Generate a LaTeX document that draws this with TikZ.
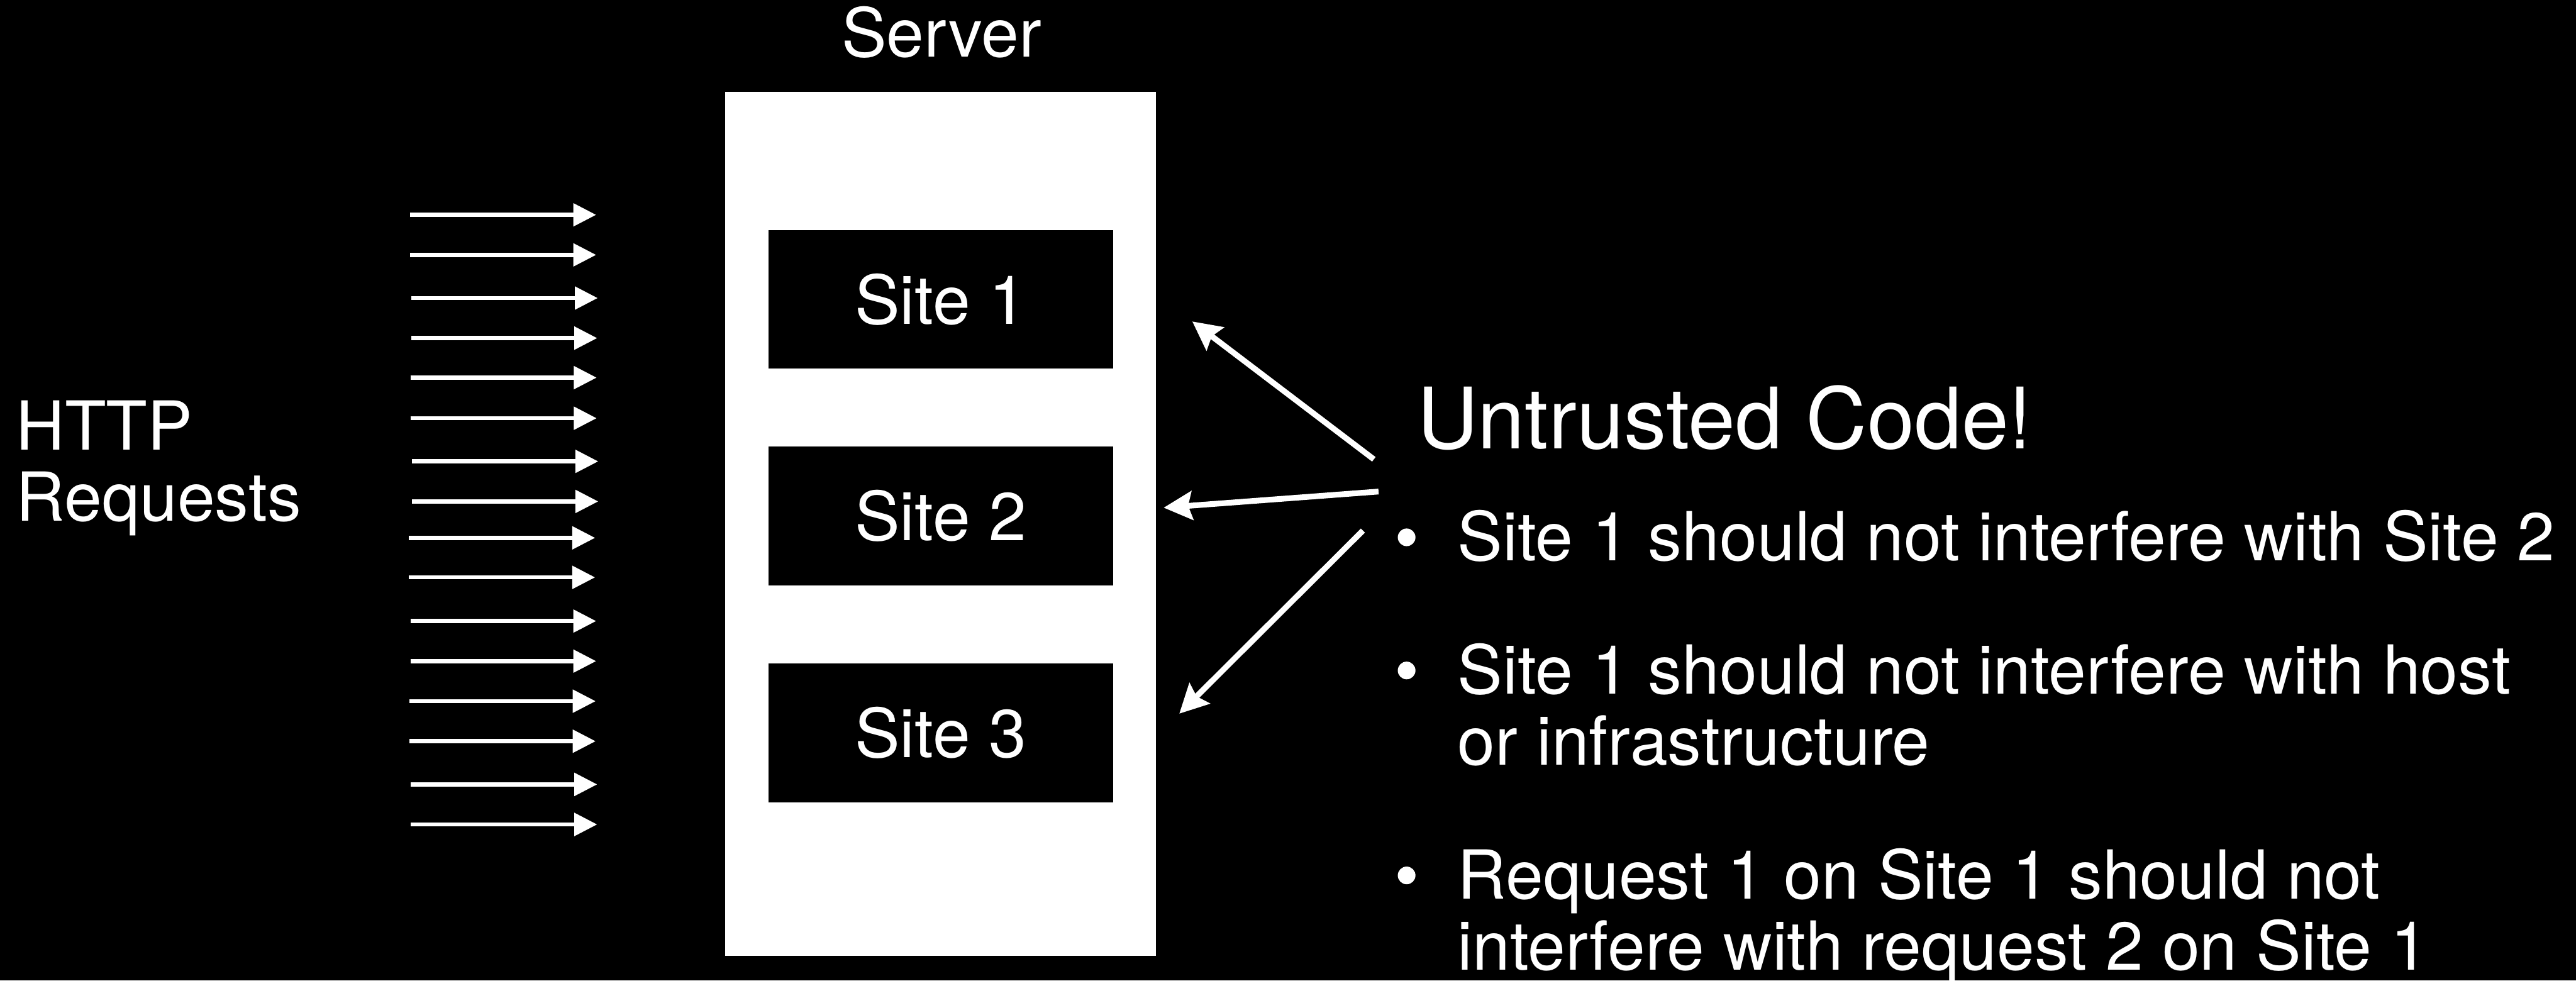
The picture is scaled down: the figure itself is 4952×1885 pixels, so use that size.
\documentclass[tikz,border=0pt]{standalone}
\usepackage{fontspec}
\setmainfont{TeX Gyre Heros}
\usetikzlibrary{arrows.meta}

\begin{document}
\begin{tikzpicture}[x=0.2pt,y=-0.2pt,
  every node/.style={inner sep=0pt, outer sep=0pt, text=white},
  txt/.style={font=\fontsize{26}{31}\selectfont},
  bigtxt/.style={font=\fontsize{32.6}{39}\selectfont},
  serverbox/.style={fill=white, minimum width=165.6pt, minimum height=332.4pt},
  sitebox/.style={fill=black, txt, minimum width=132.6pt, minimum height=53.4pt},
  dot/.style={circle, fill=white, minimum size=6.8pt},
  request/.style={draw=white, line width=1.6pt,
    -{Triangle[length=8.8pt,width=8.6pt]}},
  reach/.style={draw=white, line width=2.2pt,
    -{Stealth[length=11pt,width=11pt,inset=1.6pt]}}
]
% canvas
\fill[black] (0,0) rectangle (4952,1885);
\useasboundingbox (0,0) rectangle (4952,1885);

% server with its three sites
\node[serverbox] (server) at (1808,1007) {};
\node[txt, anchor=base] (servertitle) at (1810,109) {Server};
\node[sitebox] (site1) at (1808.5,575.5) {Site 1};
\node[sitebox] (site2) at (1808.5,992) {Site 2};
\node[sitebox] (site3) at (1808.5,1409) {Site 3};

% incoming requests
\node[txt, anchor=base west] (http) at (31,865) {HTTP};
\node[txt, anchor=base west] (requests) at (31,1002) {Requests};
\foreach \i/\xa/\xb/\y in {1/788/1146/413, 2/788/1146/490, 3/791/1149/573,
    4/791/1148/650, 5/789/1147/726, 6/789/1147/804, 7/792/1150/887,
    8/792/1150/964, 9/786/1144/1034, 10/786/1144/1110, 11/789/1146/1194,
    12/789/1146/1271, 13/787/1145/1348, 14/787/1145/1425, 15/790/1148/1508,
    16/790/1148/1585} {
  \coordinate (req\i s) at (\xa,\y);
  \coordinate (req\i e) at (\xb,\y);
  \draw[request] (req\i s) -- (req\i e);
}

% untrusted code reaching into the sites
\node[bigtxt, anchor=base west] (untrusted) at (2724,863) {Untrusted Code!};
\coordinate (u1s) at (2641,883);  \coordinate (u1e) at (2292,618);
\coordinate (u2s) at (2650,945);  \coordinate (u2e) at (2237,976);
\coordinate (u3s) at (2620,1020); \coordinate (u3e) at (2267,1372);
\draw[reach] (u1s) -- (u1e);
\draw[reach] (u2s) -- (u2e);
\draw[reach] (u3s) -- (u3e);

% isolation requirements
\node[dot] (b1) at (2704,1033) {};
\node[txt, anchor=base west] (l1) at (2802,1078) {Site 1 should not interfere with Site 2};
\node[dot] (b2) at (2704,1289) {};
\node[txt, anchor=base west] (l2) at (2802,1334) {Site 1 should not interfere with host};
\node[txt, anchor=base west] (l2b) at (2802,1471) {or infrastructure};
\node[dot] (b3) at (2704,1683) {};
\node[txt, anchor=base west] (l3) at (2802,1728) {Request 1 on Site 1 should not};
\node[txt, anchor=base west] (l3b) at (2802,1865) {interfere with request 2 on Site 1};
\end{tikzpicture}
\end{document}
